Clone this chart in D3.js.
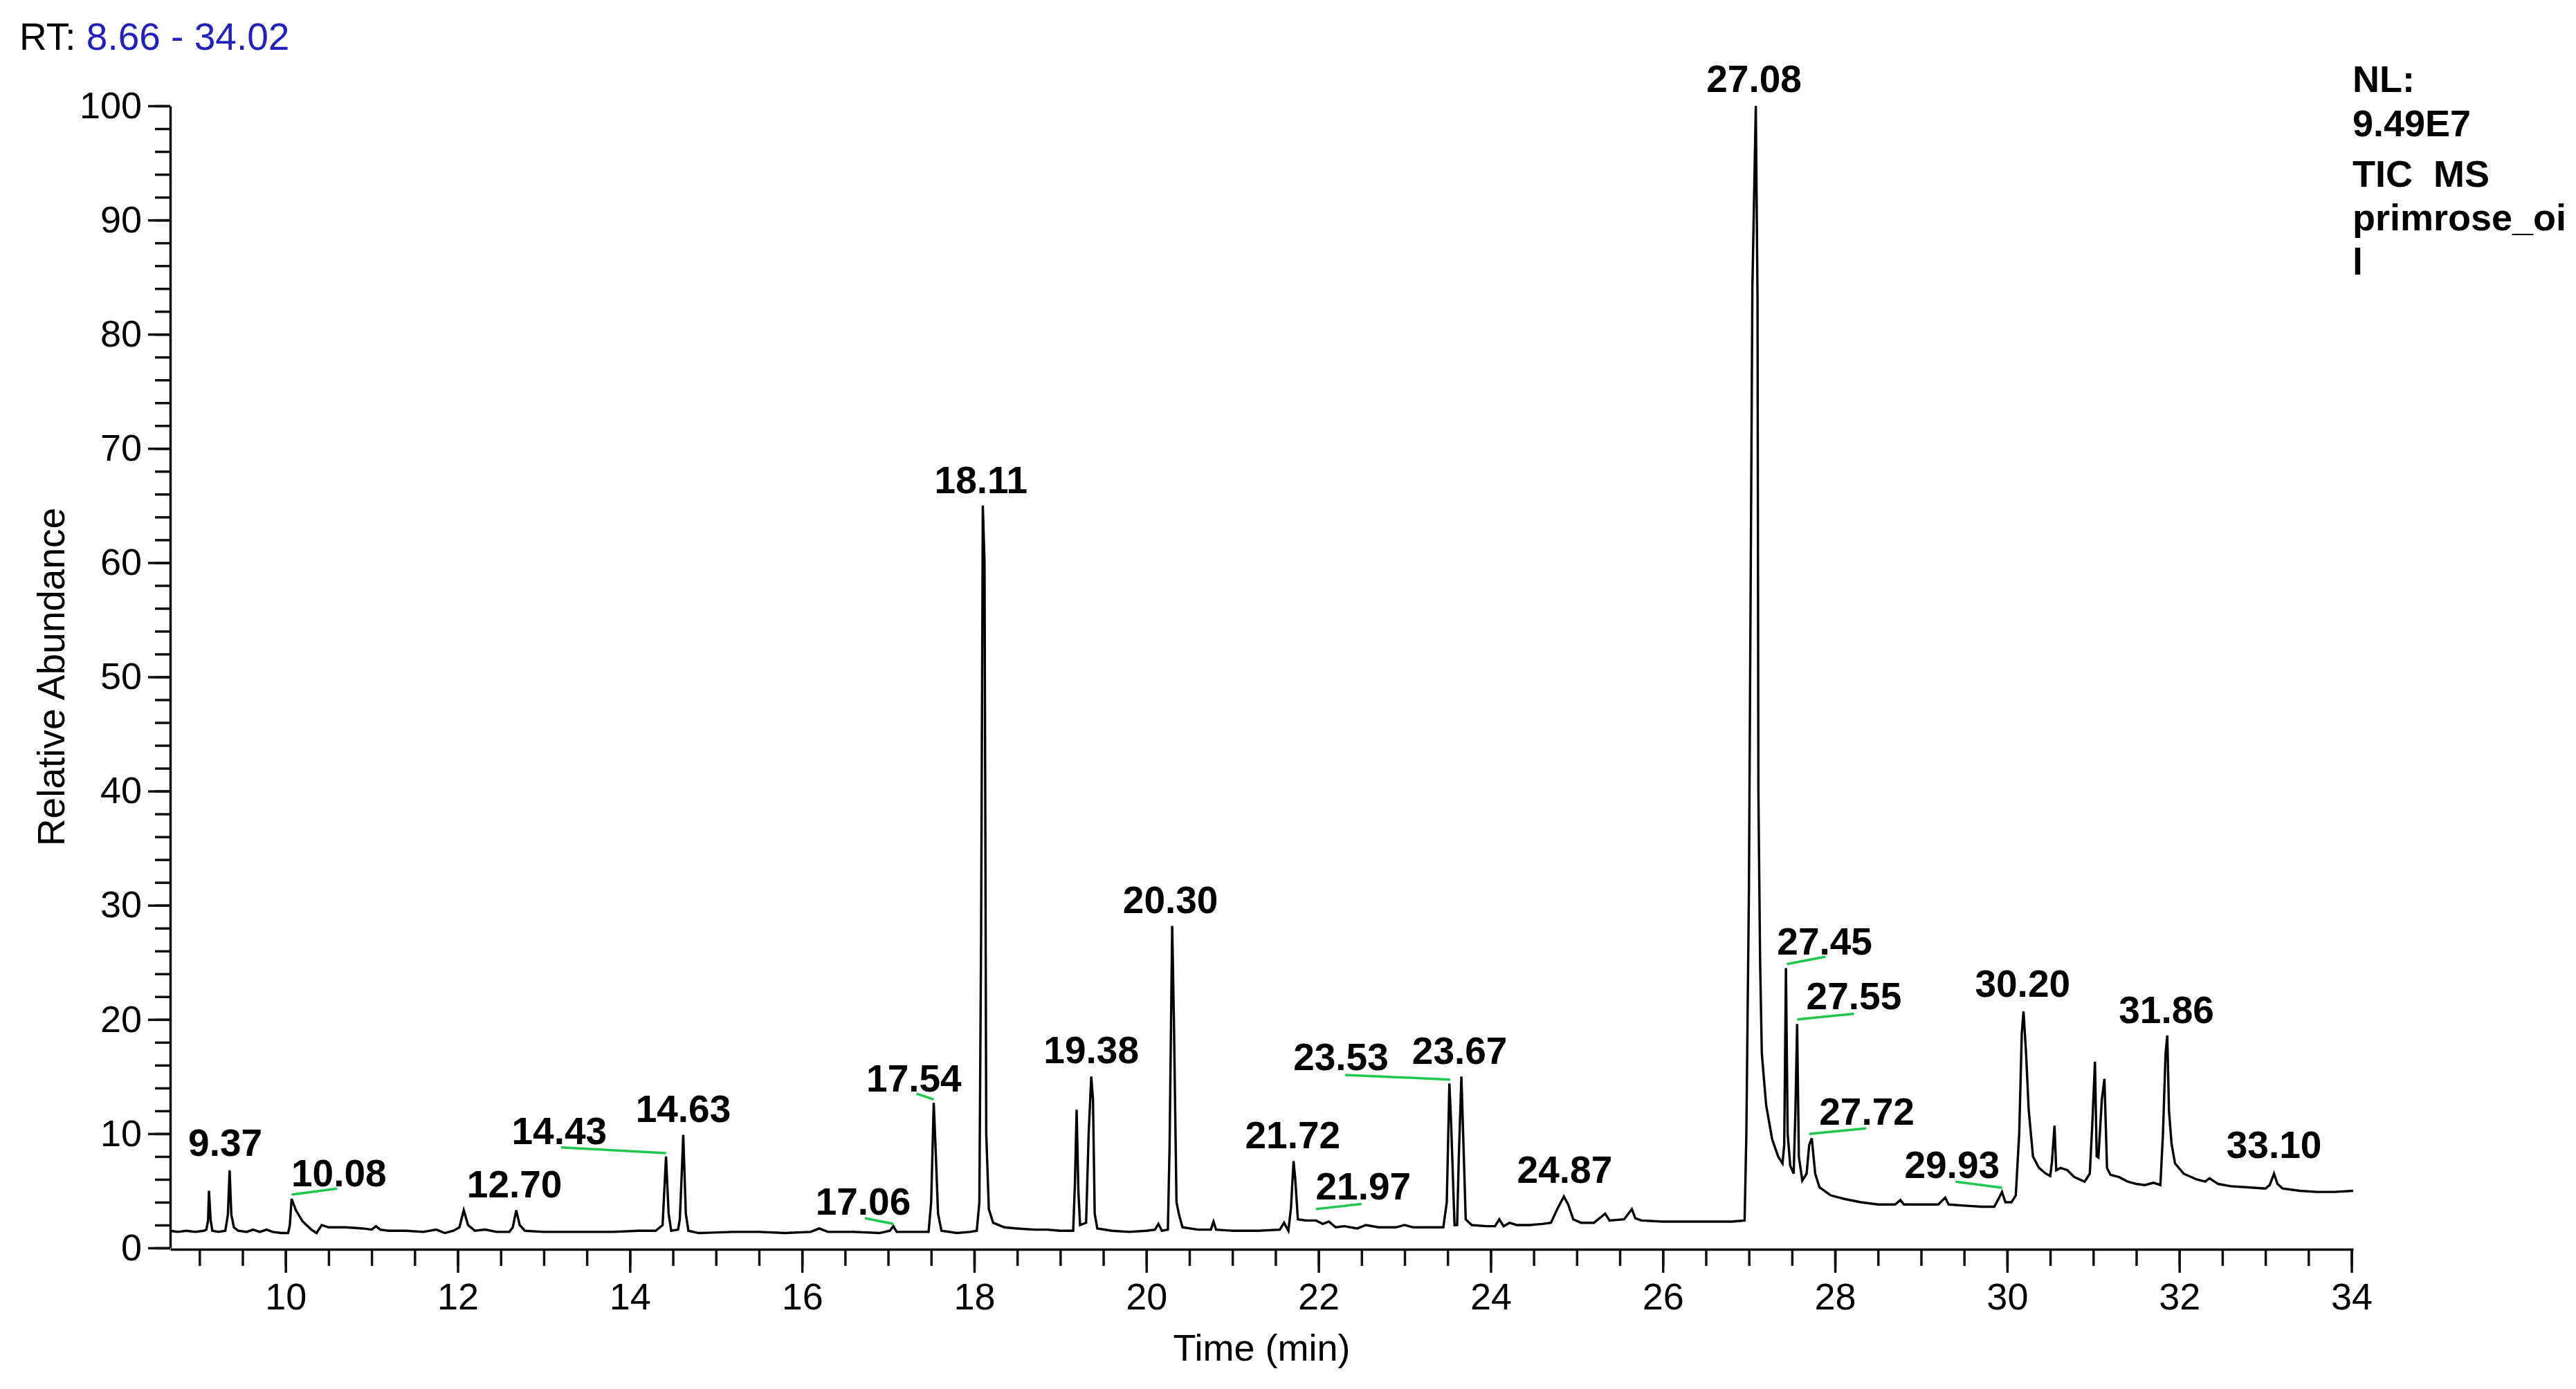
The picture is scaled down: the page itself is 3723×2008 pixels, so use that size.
<!DOCTYPE html>
<meta charset="utf-8">
<style>
body { margin: 0; background: #fff; }
text { font-family: "Liberation Sans", Arial, sans-serif; }
</style>
<body>
<script src="https://d3js.org/d3.v7.min.js"></script>
<script>

var width = 3723,
    height = 2008;

// retention time range shown
var rtRange = [8.66, 34.02];

// TIC trace: [time (min), relative abundance]
var trace = [
  [8.66,1.5],[8.75,1.4],[8.85,1.5],[8.95,1.4],[9.05,1.5],[9.08,1.6],[9.10,2.4],[9.11,5.0],[9.13,2.4],[9.15,1.5],
  [9.22,1.4],[9.30,1.5],[9.33,2.9],[9.35,6.8],[9.37,2.9],[9.40,1.8],[9.45,1.5],[9.55,1.4],[9.62,1.6],[9.70,1.4],
  [9.78,1.6],[9.85,1.4],[9.95,1.3],[10.03,1.3],[10.05,2.0],[10.07,4.3],[10.12,3.3],[10.20,2.3],[10.30,1.6],[10.36,1.3],
  [10.42,2.0],[10.50,1.8],[10.70,1.8],[10.90,1.7],[11.00,1.6],[11.05,1.9],[11.10,1.6],[11.20,1.5],[11.40,1.5],[11.60,1.4],
  [11.75,1.6],[11.85,1.3],[11.95,1.5],[12.02,1.8],[12.07,3.3],[12.12,2.0],[12.20,1.5],[12.32,1.6],[12.45,1.4],[12.60,1.4],
  [12.64,1.8],[12.68,3.3],[12.72,2.0],[12.78,1.5],[13.00,1.4],[13.50,1.4],[13.80,1.4],[14.10,1.5],[14.30,1.5],[14.38,2.0],
  [14.40,5.0],[14.42,8.0],[14.45,3.0],[14.48,1.5],[14.56,1.6],[14.58,2.5],[14.60,6.0],[14.62,9.9],[14.65,3.0],[14.68,1.5],
  [14.80,1.3],[15.20,1.4],[15.50,1.4],[15.80,1.3],[16.10,1.4],[16.20,1.7],[16.30,1.4],[16.60,1.4],[16.90,1.3],[17.02,1.5],
  [17.06,1.9],[17.10,1.4],[17.30,1.4],[17.47,1.4],[17.50,4.0],[17.53,12.7],[17.55,9.0],[17.58,3.0],[17.62,1.5],[17.80,1.3],
  [17.95,1.4],[18.03,1.5],[18.06,4.0],[18.08,27.0],[18.10,65.0],[18.12,60.0],[18.14,10.0],[18.17,3.4],[18.22,2.2],[18.35,1.8],
  [18.50,1.7],[18.70,1.6],[18.85,1.6],[19.00,1.5],[19.15,1.5],[19.17,5.6],[19.19,12.1],[19.21,5.0],[19.23,2.0],[19.30,2.2],
  [19.33,10.1],[19.36,15.0],[19.38,13.0],[19.40,3.0],[19.43,1.7],[19.60,1.5],[19.80,1.4],[20.00,1.5],[20.10,1.6],[20.14,2.1],
  [20.18,1.5],[20.25,1.6],[20.27,9.0],[20.30,28.2],[20.32,20.0],[20.35,4.0],[20.38,2.9],[20.42,1.8],[20.60,1.6],[20.75,1.6],
  [20.78,2.3],[20.81,1.6],[21.00,1.5],[21.30,1.5],[21.55,1.6],[21.60,2.2],[21.65,1.5],[21.68,3.5],[21.71,7.6],[21.73,6.0],
  [21.76,2.5],[21.85,2.4],[21.97,2.4],[22.05,2.1],[22.12,2.3],[22.20,1.8],[22.30,1.9],[22.45,1.7],[22.55,2.0],[22.70,1.8],
  [22.90,1.8],[23.00,2.0],[23.10,1.8],[23.35,1.8],[23.45,1.8],[23.49,4.0],[23.52,14.4],[23.54,11.0],[23.58,2.0],[23.61,2.0],
  [23.63,8.0],[23.66,15.0],[23.68,10.0],[23.71,2.5],[23.78,2.0],[23.95,1.9],[24.05,1.9],[24.10,2.5],[24.15,1.9],[24.22,2.2],
  [24.30,2.0],[24.45,2.0],[24.60,2.1],[24.70,2.2],[24.78,3.5],[24.85,4.5],[24.90,3.8],[24.96,2.5],[25.05,2.2],[25.20,2.2],
  [25.33,3.0],[25.38,2.4],[25.55,2.5],[25.64,3.4],[25.68,2.6],[25.75,2.4],[26.00,2.3],[26.40,2.3],[26.80,2.3],[26.95,2.4],
  [26.97,9.9],[27.00,31.3],[27.04,84.0],[27.08,100],[27.10,83.0],[27.11,40.0],[27.13,25.0],[27.15,17.0],[27.20,12.5],[27.27,9.5],
  [27.34,8.0],[27.39,7.4],[27.41,9.0],[27.43,24.5],[27.45,10.0],[27.48,7.2],[27.52,6.5],[27.54,12.0],[27.56,19.6],[27.58,8.0],
  [27.62,5.9],[27.67,6.5],[27.70,9.0],[27.73,9.6],[27.77,6.5],[27.82,5.3],[27.95,4.6],[28.10,4.3],[28.30,4.0],[28.50,3.8],
  [28.70,3.8],[28.76,4.2],[28.80,3.8],[29.00,3.8],[29.20,3.8],[29.28,4.4],[29.32,3.8],[29.50,3.7],[29.70,3.6],[29.85,3.6],
  [29.90,4.3],[29.94,4.9],[29.98,4.0],[30.05,4.0],[30.10,4.6],[30.14,10.0],[30.17,18.8],[30.19,20.7],[30.22,17.0],[30.25,12.1],
  [30.30,8.0],[30.37,7.0],[30.45,6.5],[30.50,6.3],[30.52,7.5],[30.55,10.7],[30.57,6.8],[30.62,7.0],[30.70,6.8],[30.78,6.2],
  [30.90,5.8],[30.96,6.5],[30.99,11.0],[31.02,16.3],[31.04,8.0],[31.06,7.9],[31.10,13.0],[31.13,14.8],[31.16,7.0],[31.20,6.4],
  [31.30,6.2],[31.40,5.8],[31.50,5.6],[31.60,5.5],[31.70,5.7],[31.78,5.5],[31.81,10.0],[31.84,17.0],[31.86,18.6],[31.88,12.0],
  [31.91,9.1],[31.95,7.4],[32.05,6.5],[32.20,6.0],[32.30,5.8],[32.35,6.1],[32.45,5.6],[32.60,5.4],[32.80,5.3],[33.00,5.2],
  [33.05,5.5],[33.10,6.5],[33.14,5.6],[33.20,5.2],[33.40,5.0],[33.60,4.9],[33.80,4.9],[34.02,5.0]
];

// peak labels: text, anchor time, anchor abundance
var peakLabels = ["9.37","10.08","12.70","14.43","14.63","17.06","17.54","18.11","19.38","20.30","21.72","21.97",
                  "23.53","23.67","24.87","27.08","27.45","27.55","27.72","29.93","30.20","31.86","33.10"];
var labelRT   = [9.30,10.62,12.66,13.18,14.62,16.71,17.30,18.08,19.36,20.28,21.70,22.52,
                 22.26,23.64,24.86,27.06,27.88,28.22,28.37,29.36,30.18,31.85,33.10];
var labelAbund = [8.05,5.4,4.4,9.1,11.0,2.9,13.7,66.1,16.2,29.3,8.7,4.24,
                  15.55,16.1,5.7,101.2,25.7,20.9,10.8,6.1,21.96,19.7,7.9];

// green leader lines: [t1, a1, t2, a2]
var leaders = [
  [10.07,4.66,10.60,5.2],
  [13.20,8.8,14.42,8.3],
  [16.73,2.6,17.06,2.1],
  [17.33,13.5,17.53,13.0],
  [21.97,3.4,22.50,3.85],
  [22.31,15.14,23.53,14.74],
  [27.44,24.85,27.89,25.5],
  [27.56,20.0,28.22,20.5],
  [27.70,9.98,28.36,10.46],
  [29.40,5.8,29.94,5.27]
];

var yMajor = d3.range(0, 101, 10);
var yMinor = d3.range(0, 101, 2);
var xMajor = d3.range(10, 35, 2);
var xMinor = d3.range(9, 34.01, 0.5);

var infoLines = ["NL:", "9.49E7", "TIC  MS", "primrose_oi", "l"];

var svg = d3.select("body").append("svg")
    .attr("width", width)
    .attr("height", height);

var x = d3.scaleLinear().domain(rtRange).range([246, 3401]);
var y = d3.scaleLinear().domain([0, 100]).range([1804, 153]);

// y axis
var yMinorAxis = svg.append("g")
    .attr("transform", "translate(" + x(rtRange[0]) + ",0)")
    .call(d3.axisLeft(y).tickValues(yMinor).tickSize(22).tickSizeOuter(0).tickFormat(""));
yMinorAxis.select(".domain").remove();

var yAxis = svg.append("g")
    .attr("transform", "translate(" + x(rtRange[0]) + ",0)")
    .call(d3.axisLeft(y).tickValues(yMajor).tickSize(32).tickSizeOuter(0).tickPadding(9));

// x axis
var xMinorAxis = svg.append("g")
    .attr("transform", "translate(0," + (y(0) + 2) + ")")
    .call(d3.axisBottom(x).tickValues(xMinor).tickSize(24).tickSizeOuter(0).tickFormat(""));
xMinorAxis.select(".domain").remove();

var xAxis = svg.append("g")
    .attr("transform", "translate(0," + (y(0) + 2) + ")")
    .call(d3.axisBottom(x).tickValues(xMajor).tickSize(34).tickSizeOuter(0).tickPadding(15));

svg.selectAll(".tick line, .domain")
    .style("stroke", "#111")
    .style("stroke-width", 3.5);

svg.selectAll(".tick text")
    .style("font-family", '"Liberation Sans", Arial, sans-serif')
    .style("font-size", "54px")
    .style("fill", "#000");

// trace
var line = d3.line()
    .x(function(d) { return x(d[0]); })
    .y(function(d) { return y(d[1]); });

svg.append("path")
    .datum(trace)
    .attr("d", line)
    .style("fill", "none")
    .style("stroke", "#000")
    .style("stroke-width", 3.4)
    .style("stroke-linejoin", "miter");

// green leaders
svg.selectAll("line.leader")
    .data(leaders)
    .enter()
    .append("line")
    .attr("class", "leader")
    .attr("x1", function(d) { return x(d[0]); })
    .attr("y1", function(d) { return y(d[1]); })
    .attr("x2", function(d) { return x(d[2]); })
    .attr("y2", function(d) { return y(d[3]); })
    .style("stroke", "#1ec84e")
    .style("stroke-width", 3.5);

// peak labels
svg.selectAll("text.peak")
    .data(peakLabels)
    .enter()
    .append("text")
    .attr("class", "peak")
    .attr("x", function(d, i) { return x(labelRT[i]); })
    .attr("y", function(d, i) { return y(labelAbund[i]); })
    .attr("text-anchor", "middle")
    .style("font-size", "55px")
    .style("font-weight", "bold")
    .style("fill", "#000")
    .text(function(d) { return d; });

// header
var rt = svg.append("text")
    .attr("x", 28)
    .attr("y", 72)
    .style("font-size", "55px")
    .style("fill", "#000");
rt.append("tspan").text("RT: ");
rt.append("tspan").style("fill", "#2222b8").text(rtRange[0].toFixed(2) + " - " + rtRange[1].toFixed(2));

// NL block
var infoY = [133, 197, 270, 333, 397];
svg.selectAll("text.info")
    .data(infoLines)
    .enter()
    .append("text")
    .attr("class", "info")
    .attr("x", 3400)
    .attr("y", function(d, i) { return infoY[i]; })
    .style("font-size", "54px")
    .style("font-weight", "bold")
    .style("white-space", "pre")
    .attr("xml:space", "preserve")
    .text(function(d) { return d; });

// axis titles
svg.append("text")
    .attr("transform", "translate(93," + ((y(0) + y(100)) / 2) + ") rotate(-90)")
    .attr("text-anchor", "middle")
    .style("font-size", "55px")
    .text("Relative Abundance");

svg.append("text")
    .attr("x", (x(rtRange[0]) + x(rtRange[1])) / 2)
    .attr("y", 1967)
    .attr("text-anchor", "middle")
    .style("font-size", "54px")
    .text("Time (min)");

</script>
</body>
